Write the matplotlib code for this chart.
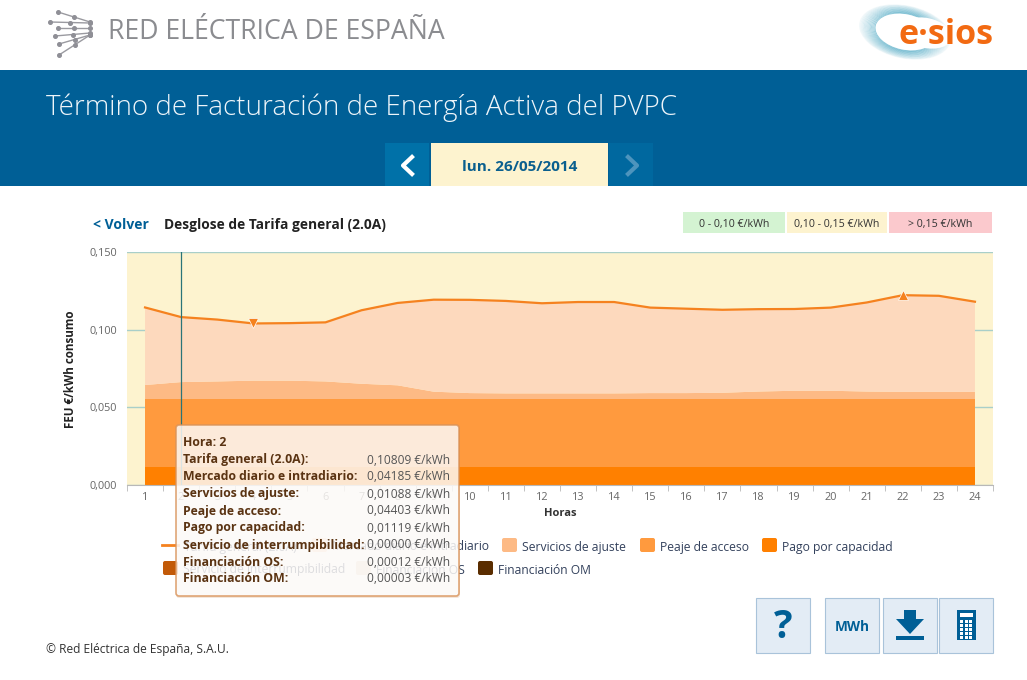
import numpy as np
import matplotlib
matplotlib.use('Agg')
import matplotlib.pyplot as plt
from matplotlib.patches import Rectangle, FancyBboxPatch, Ellipse, Polygon

plt.rcParams['font.family'] = ['Open Sans', 'DejaVu Sans']

hours = list(range(1, 25))
tarifa = [0.1143, 0.10809, 0.1065, 0.1040, 0.1042, 0.1047, 0.1125, 0.1172, 0.1193, 0.1192, 0.1185, 0.1170,
          0.1178, 0.1178, 0.1142, 0.1135, 0.1128, 0.1132, 0.1133, 0.1142, 0.1175, 0.1222, 0.1218, 0.1180]
mercado = [0.04995, 0.04185, 0.03985, 0.03685, 0.03705, 0.03805, 0.04735, 0.05305, 0.05925, 0.06005, 0.05955, 0.05805,
           0.05885, 0.05885, 0.05505, 0.05435, 0.05345, 0.05305, 0.05265, 0.05355, 0.05735, 0.06225, 0.06185, 0.05805]
ajuste = [0.0090, 0.01088, 0.0113, 0.0118, 0.0118, 0.0113, 0.0098, 0.0088, 0.0047, 0.0038, 0.0036, 0.0036,
          0.0036, 0.0036, 0.0038, 0.0038, 0.0040, 0.0048, 0.0053, 0.0053, 0.0048, 0.0046, 0.0046, 0.0046]
peaje = [0.04403] * 24
capacidad = [0.01119] * 24
interrump = [0.0] * 24
fin_os = [0.00012] * 24
fin_om = [0.00003] * 24

y_ticks = [0.0, 0.05, 0.10, 0.15]
y_labels = ['0,000', '0,050', '0,100', '0,150']
ranges = ['0 - 0,10 €/kWh', '0,10 - 0,15 €/kWh', '> 0,15 €/kWh']
tip_names = ['Tarifa general (2.0A):', 'Mercado diario e intradiario:', 'Servicios de ajuste:', 'Peaje de acceso:',
             'Pago por capacidad:', 'Servicio de interrumpibilidad:', 'Financiación OS:', 'Financiación OM:']

W, H = 1027, 680
BLUE = '#005f96'
YELLOW = '#fdf3cf'
C_MERCADO, C_AJUSTE, C_PEAJE, C_CAP = '#fdd9bd', '#fdba85', '#ff9a3e', '#ff8000'
C_INT, C_OS, C_OM = '#c25a08', '#ead9c8', '#5a2d00'

fig = plt.figure(figsize=(W / 100, H / 100), dpi=100, facecolor='white')


def pixel_axes(z):
    a = fig.add_axes([0, 0, 1, 1], zorder=z)
    a.set_xlim(0, W)
    a.set_ylim(H, 0)
    a.axis('off')
    return a


def box(a, x0, y0, x1, y1, color, **kw):
    a.add_patch(Rectangle((x0, y0), x1 - x0, y1 - y0, facecolor=color, edgecolor=kw.pop('edgecolor', 'none'), **kw))


bg = pixel_axes(0)
top = pixel_axes(2)
top.patch.set_alpha(0)

# header
net = [((58, 12), (90, 22)), ((50, 22), (90, 23)), ((58, 28), (90, 28)), ((55, 36), (90, 33)),
       ((59, 44), (90, 35)), ((59, 55), (90, 35))]
for p0, p1 in net:
    bg.plot([p0[0], p1[0]], [p0[1], p1[1]], color='#9a9aa0', lw=1.0)
    bg.plot([p0[0], (p0[0] + p1[0]) / 2, p1[0]], [p0[1], (p0[1] + p1[1]) / 2, p1[1]], 'o', color='#8f8f96', ms=2.6)
bg.text(108, 32, 'RED ELÉCTRICA DE ESPAÑA', color='#8b8c90', fontsize=19.2, va='center')

for i in range(14):
    bg.add_patch(Ellipse((905, 32), 92 - i * 2.4, 52 - i * 1.2, angle=12, facecolor='none',
                         edgecolor='#4fa9c4', lw=0.7, alpha=0.08 + i * 0.04))
bg.add_patch(Ellipse((926, 33), 52, 30, angle=12, facecolor='white', edgecolor='none'))
bg.text(993, 35, 'e·sios', color='#f26a12', fontsize=24.5, fontweight='bold', ha='right', va='center')

box(bg, 0, 70, W, 186, BLUE)
bg.text(46, 108, 'Término de Facturación de Energía Activa del PVPC', color='#eef5fa', fontsize=20,
        fontweight='light', va='center')
box(bg, 385, 143, 429, 186, '#0071a8')
box(bg, 431, 143, 608, 186, YELLOW)
box(bg, 609, 143, 653, 186, '#00689f')
bg.plot([412, 403, 412], [157, 165.5, 174], color='white', lw=3)
bg.plot([628, 637, 628], [157, 165.5, 174], color='#4d94bd', lw=3)
bg.text(520, 167, 'lun. 26/05/2014', color='#0a5f8e', fontsize=11, fontweight='bold', ha='center', va='center')

bg.text(93, 225, '< Volver', color=BLUE, fontsize=10, fontweight='bold', va='center')
bg.text(164, 225, 'Desglose de Tarifa general (2.0A)', color='#222222', fontsize=9.95, fontweight='bold', va='center')
chips = [(683, 785, '#d4f3d2'), (787, 887, YELLOW), (889, 992, '#fbc9cd')]
for (x0, x1, c), label in zip(chips, ranges):
    box(bg, x0, 212, x1, 233, c)
    bg.text((x0 + x1) / 2, 224, label, color='#333333', fontsize=7.7, ha='center', va='center')

# chart
ax = fig.add_axes([127 / W, 1 - 485 / H, 866 / W, 233 / H], zorder=1, facecolor=YELLOW)
ax.set_xlim(0.5, 24.5)
ax.set_ylim(0, 0.15)
ax.set_axisbelow(True)
ax.grid(axis='y', color='#a9cfc9', lw=1)
ax.stackplot(hours, fin_om, fin_os, interrump, capacidad, peaje, ajuste, mercado,
             colors=[C_OM, C_OS, C_INT, C_CAP, C_PEAJE, C_AJUSTE, C_MERCADO], lw=0)
ax.plot(hours, tarifa, color='#f5821f', lw=1.6, zorder=4)
ax.axvline(hours[1], color='#2a7478', lw=0.9, zorder=5)
low, high = int(np.argmin(tarifa)), int(np.argmax(tarifa))
ax.plot(hours[low], tarifa[low], 'v', color='#f5821f', mec='white', mew=0.5, ms=7, zorder=6)
ax.plot(hours[high], tarifa[high], '^', color='#f5821f', mec='white', mew=0.5, ms=7, zorder=6)

for side in ['top', 'left', 'right']:
    ax.spines[side].set_visible(False)
ax.spines['bottom'].set_color('#b8b8b8')
ax.set_xticks(hours)
ax.set_xticklabels([str(h) for h in hours])
ax.set_xticks([h - 0.5 for h in hours] + [24.5], minor=True)
ax.tick_params(axis='x', which='major', length=0, pad=5, labelsize=7.8, labelcolor='#666666')
ax.tick_params(axis='x', which='minor', length=4, color='#b8b8b8')
ax.set_yticks(y_ticks)
ax.set_yticklabels(y_labels)
ax.tick_params(axis='y', length=0, pad=7, labelsize=7.8, labelcolor='#666666')
bg.text(71, 369, 'FEU €/kWh consumo', color='#222222', fontsize=8.4, fontweight='bold', rotation=90,
        ha='center', va='center')
bg.text(560, 514, 'Horas', color='#333333', fontsize=8, fontweight='bold', ha='center', va='center')

# legend
LEG = '#33415c'
bg.plot([162, 178], [545, 545], color='#f5821f', lw=2)
bg.text(184, 547, 'Tarifa general (2.0A)', color=LEG, fontsize=8.7, va='center')
legend_rows = [(312, 545, C_MERCADO, 'Mercado diario e intradiario'), (502, 545, C_AJUSTE, 'Servicios de ajuste'),
               (640, 545, C_PEAJE, 'Peaje de acceso'), (762, 545, C_CAP, 'Pago por capacidad'),
               (163, 568, C_INT, 'Servicio de interrumpibilidad'), (356, 568, C_OS, 'Financiación OS'),
               (478, 568, C_OM, 'Financiación OM')]
for x, y, c, label in legend_rows:
    bg.add_patch(FancyBboxPatch((x + 2, y - 5), 11, 10, boxstyle='round,pad=2', facecolor=c, edgecolor='none'))
    bg.text(x + 20, y + 2, label, color=LEG, fontsize=8.7, va='center')

# footer and buttons
bg.text(46, 649, '© Red Eléctrica de España, S.A.U.', color='#333333', fontsize=8.67, va='center')
for x0, x1 in [(756, 810), (825, 879), (883, 937), (939, 993)]:
    box(bg, x0, 598, x1, 653, '#e3ecf5', edgecolor='#a9c3da', lw=0.8)
bg.text(783, 628, '?', color=BLUE, fontsize=28, fontweight='bold', ha='center', va='center')
bg.text(852, 627, 'MWh', color=BLUE, fontsize=9.8, fontweight='bold', ha='center', va='center')
bg.add_patch(Polygon([(904, 610), (916, 610), (916, 619), (924, 619), (910, 634), (896, 619), (904, 619)],
                     facecolor=BLUE, edgecolor='none'))
box(bg, 896, 636, 924, 640, BLUE)
box(bg, 957, 610, 976, 640, BLUE)
box(bg, 960, 613, 973, 617, 'white')
for cx in [960, 964.5, 969]:
    for cy in [620, 624, 628, 632, 636]:
        box(bg, cx, cy, cx + 3, cy + 2.6, 'white')

# tooltip
top.add_patch(FancyBboxPatch((178, 428), 280, 168, boxstyle='round,pad=2,rounding_size=3', facecolor='#b05a10',
                             edgecolor='none', alpha=0.15))
top.add_patch(FancyBboxPatch((178, 427), 279, 167, boxstyle='round,pad=2,rounding_size=3', facecolor='white',
                             edgecolor='#d9935a', lw=1.2, alpha=0.82))
TIP = '#5a3312'
top.text(183, 443, 'Hora: %d' % hours[1], color=TIP, fontsize=8.8, fontweight='bold', va='center')
tip_values = [tarifa[1], mercado[1], ajuste[1], peaje[1], capacidad[1], interrump[1], fin_os[1], fin_om[1]]
for i, (name, v) in enumerate(zip(tip_names, tip_values)):
    y = 460 + i * 17
    top.text(183, y, name, color=TIP, fontsize=8.8, fontweight='bold', va='center')
    top.text(450, y, ('%.5f' % v).replace('.', ',') + ' €/kWh', color='#555555', fontsize=8.6, ha='right', va='center')

fig.savefig('out.png', dpi=100)
